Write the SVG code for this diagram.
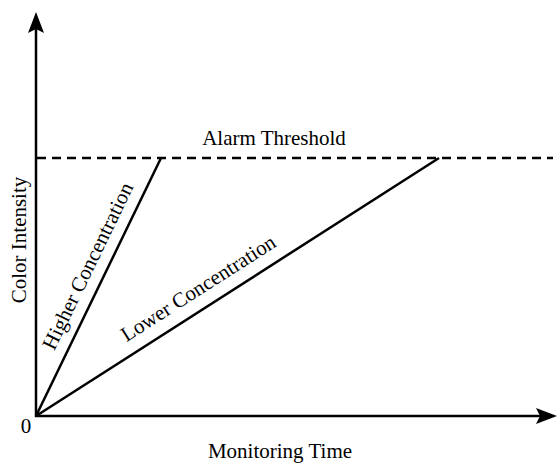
<svg xmlns="http://www.w3.org/2000/svg" width="559" height="463" viewBox="0 0 559 463">
<style>
.ax{stroke:#000;stroke-width:2.5;fill:none}
.ln{stroke:#000;stroke-width:2.5;fill:none}
.dash{stroke:#000;stroke-width:2.5;fill:none;stroke-dasharray:9 6}
text{font-family:"Liberation Serif","Times New Roman",serif;font-size:21px;fill:#000}
</style>
<rect width="559" height="463" fill="#fff"/>
<g id="connectors">
<line class="ax" x1="36" y1="417" x2="36" y2="28"/>
<path d="M36,12 L44,33 L36,29 L28,33 Z" fill="#000"/>
<line class="ax" x1="35" y1="416" x2="540" y2="416"/>
<path d="M557,416 L536,424 L540,416 L536,408 Z" fill="#000"/>
<line class="dash" x1="37" y1="158" x2="553" y2="158"/>
<line class="ln" x1="36" y1="416" x2="161" y2="158"/>
<line class="ln" x1="36" y1="416" x2="439" y2="158"/>
</g>
<g id="labels">
<text x="274" y="145" text-anchor="middle">Alarm Threshold</text>
<text x="280" y="458" text-anchor="middle">Monitoring Time</text>
<text x="26" y="240" text-anchor="middle" transform="rotate(-90 26 240)">Color Intensity</text>
<text x="26" y="433" text-anchor="middle">0</text>
<text x="0" y="0" text-anchor="middle" transform="translate(94 269) rotate(-64.2)">Higher Concentration</text>
<text x="0" y="0" text-anchor="middle" transform="translate(202 294) rotate(-32.6)">Lower Concentration</text>
</g>
</svg>
